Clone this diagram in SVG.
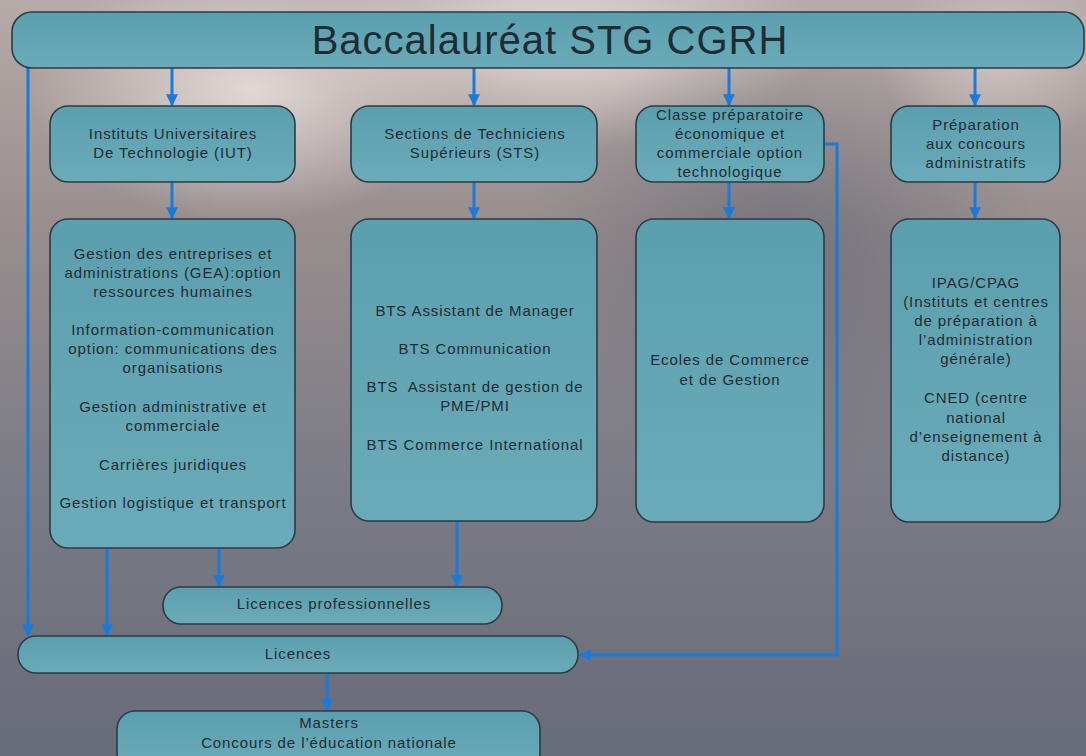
<svg xmlns="http://www.w3.org/2000/svg" width="1086" height="756" viewBox="0 0 1086 756">
<defs>
<linearGradient id="bg" x1="0" y1="0" x2="0" y2="1">
<stop offset="0" stop-color="#b6aba8"/>
<stop offset="0.3" stop-color="#988e8e"/>
<stop offset="0.65" stop-color="#7a7b86"/>
<stop offset="1" stop-color="#686b78"/>
</linearGradient>
<radialGradient id="glow1" cx="0.5" cy="0.5" r="0.5">
<stop offset="0" stop-color="#efe6e4" stop-opacity="0.8"/>
<stop offset="1" stop-color="#efe6e4" stop-opacity="0"/>
</radialGradient>
<radialGradient id="glow2" cx="0.5" cy="0.5" r="0.5">
<stop offset="0" stop-color="#5c6070" stop-opacity="0.6"/>
<stop offset="1" stop-color="#5c6070" stop-opacity="0"/>
</radialGradient>
<linearGradient id="box" x1="0" y1="0" x2="0" y2="1">
<stop offset="0" stop-color="#5b9fae"/>
<stop offset="1" stop-color="#6babb9"/>
</linearGradient>
<marker id="ah" viewBox="0 0 10 10" refX="9" refY="5" markerWidth="4" markerHeight="4" orient="auto" markerUnits="strokeWidth">
<path d="M0,0 L10,5 L0,10 z" fill="#1a7ad8"/>
</marker>
</defs>
<style>
.n rect{fill:url(#box);stroke:#2a3c44;stroke-width:1.6}
text{font-family:"Liberation Sans",Arial,sans-serif;font-size:15px;letter-spacing:0.9px;fill:#1f2c33;text-anchor:middle}
.t{font-size:40px;letter-spacing:1px}
.c path,.c line{stroke:#1a7ad8;stroke-width:3;fill:none;marker-end:url(#ah)}
</style>
<rect width="1086" height="756" fill="url(#bg)"/>
<ellipse cx="250" cy="90" rx="220" ry="130" fill="url(#glow1)"/>
<ellipse cx="560" cy="40" rx="260" ry="110" fill="url(#glow1)"/>
<ellipse cx="780" cy="260" rx="260" ry="220" fill="url(#glow2)"/>
<ellipse cx="1000" cy="60" rx="120" ry="90" fill="url(#glow1)" opacity="0.6"/>

<g class="c" id="connectors">
<line x1="172" y1="68" x2="172" y2="105"/>
<line x1="474" y1="68" x2="474" y2="105"/>
<line x1="729" y1="68" x2="729" y2="105"/>
<line x1="975" y1="68" x2="975" y2="105"/>
<line x1="172" y1="182" x2="172" y2="218"/>
<line x1="474" y1="182" x2="474" y2="218"/>
<line x1="729" y1="182" x2="729" y2="218"/>
<line x1="975" y1="182" x2="975" y2="218"/>
<line x1="28" y1="68" x2="28" y2="635"/>
<line x1="107" y1="548" x2="107" y2="635"/>
<line x1="219" y1="548" x2="219" y2="586"/>
<line x1="457" y1="521" x2="457" y2="586"/>
<path d="M824,144 H837 V655 H580"/>
<line x1="327" y1="673" x2="327" y2="710"/>
</g>

<g class="n" id="bac">
<rect x="12" y="12" width="1072" height="56" rx="20"/>
<text class="t" x="550" y="54">Baccalauréat STG CGRH</text>
</g>

<g class="n" id="iut">
<rect x="50" y="106" width="245" height="76" rx="18"/>
<text x="173" y="139">Instituts Universitaires</text>
<text x="173" y="158">De Technologie (IUT)</text>
</g>

<g class="n" id="sts">
<rect x="351" y="106" width="246" height="76" rx="18"/>
<text x="475" y="139">Sections de Techniciens</text>
<text x="475" y="158">Supérieurs (STS)</text>
</g>

<g class="n" id="prepa">
<rect x="636" y="106" width="188" height="76" rx="18"/>
<text x="730" y="120">Classe préparatoire</text>
<text x="730" y="139">économique et</text>
<text x="730" y="158">commerciale option</text>
<text x="730" y="177">technologique</text>
</g>

<g class="n" id="concours">
<rect x="891" y="106" width="169" height="76" rx="18"/>
<text x="976" y="130">Préparation</text>
<text x="976" y="149">aux concours</text>
<text x="976" y="168">administratifs</text>
</g>

<g class="n" id="iut-detail">
<rect x="50" y="219" width="245" height="329" rx="18"/>
<text x="173" y="259">Gestion des entreprises et</text>
<text x="173" y="278">administrations (GEA):option</text>
<text x="173" y="297">ressources humaines</text>
<text x="173" y="335">Information-communication</text>
<text x="173" y="354">option: communications des</text>
<text x="173" y="373">organisations</text>
<text x="173" y="412">Gestion administrative et</text>
<text x="173" y="431">commerciale</text>
<text x="173" y="470">Carrières juridiques</text>
<text x="173" y="508">Gestion logistique et transport</text>
</g>

<g class="n" id="sts-detail">
<rect x="351" y="219" width="246" height="302" rx="18"/>
<text x="475" y="316">BTS Assistant de Manager</text>
<text x="475" y="354">BTS Communication</text>
<text x="475" y="392" xml:space="preserve">BTS  Assistant de gestion de</text>
<text x="475" y="411">PME/PMI</text>
<text x="475" y="450">BTS Commerce International</text>
</g>

<g class="n" id="ecoles">
<rect x="636" y="219" width="188" height="303" rx="18"/>
<text x="730" y="365">Ecoles de Commerce</text>
<text x="730" y="385">et de Gestion</text>
</g>

<g class="n" id="ipag">
<rect x="891" y="219" width="169" height="303" rx="18"/>
<text x="976" y="288">IPAG/CPAG</text>
<text x="976" y="307">(Instituts et centres</text>
<text x="976" y="326">de préparation à</text>
<text x="976" y="345">l’administration</text>
<text x="976" y="364">générale)</text>
<text x="976" y="403">CNED (centre</text>
<text x="976" y="423">national</text>
<text x="976" y="442">d’enseignement à</text>
<text x="976" y="461">distance)</text>
</g>

<g class="n" id="lic-pro">
<rect x="163" y="587" width="339" height="37" rx="18"/>
<text x="334" y="609">Licences professionnelles</text>
</g>

<g class="n" id="licences">
<rect x="18" y="636" width="560" height="37" rx="18"/>
<text x="298" y="659">Licences</text>
</g>

<g class="n" id="masters">
<rect x="117" y="711" width="423" height="60" rx="18"/>
<text x="329" y="728">Masters</text>
<text x="329" y="748">Concours de l’éducation nationale</text>
</g>
</svg>
